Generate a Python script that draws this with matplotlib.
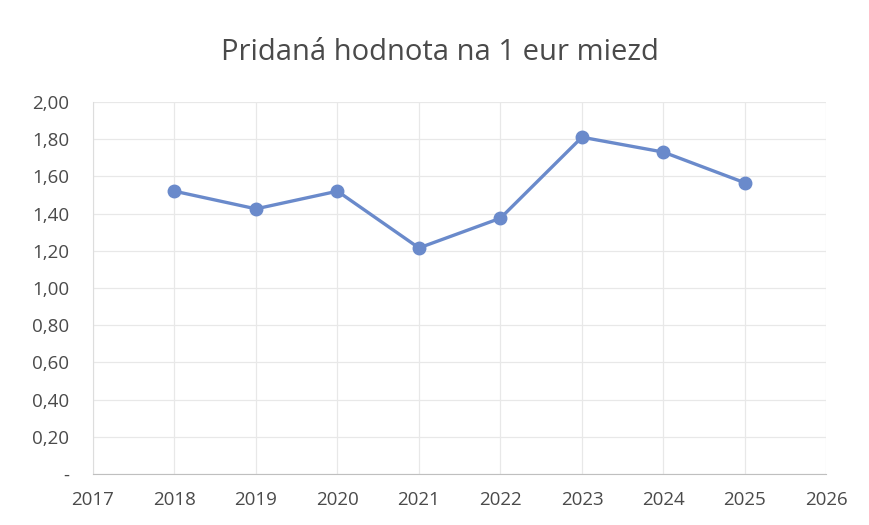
import numpy as np
from matplotlib import pyplot as plt

years = [2018, 2019, 2020, 2021, 2022, 2023, 2024, 2025]
values = [1.52, 1.425, 1.52, 1.215, 1.375, 1.81, 1.73, 1.565]

x_ticks = list(range(2017, 2027))
y_ticks = [0, 0.2, 0.4, 0.6, 0.8, 1.0, 1.2, 1.4, 1.6, 1.8, 2.0]
y_labels = ['-', '0,20', '0,40', '0,60', '0,80', '1,00', '1,20', '1,40', '1,60', '1,80', '2,00']

plt.rcParams['font.family'] = ['Open Sans', 'DejaVu Sans']

fig = plt.figure(figsize=(8.69, 5.25), dpi=100)
ax = fig.add_axes([0.107, 0.097, 0.844, 0.709])

ax.plot(years, values, color='#6a8acb', linewidth=2.4, marker='o', markersize=9,
        markerfacecolor='#6a8acb', markeredgecolor='#6a8acb', zorder=3)

ax.set_xlim(2017, 2026)
ax.set_ylim(0, 2.0)
ax.set_xticks(x_ticks)
ax.set_yticks(y_ticks)
ax.set_yticklabels(y_labels)
ax.grid(True, color='#e8e8e8', linewidth=0.9)
ax.tick_params(length=0, labelsize=13.5, colors='#4a4a4a')
ax.tick_params(axis='y', pad=17)
ax.tick_params(axis='x', pad=12)

for side in ['top', 'right']:
    ax.spines[side].set_visible(False)
ax.spines['left'].set_color('#dddddd')
ax.spines['bottom'].set_color('#bfbfbf')

fig.text(0.506, 0.9, 'Pridaná hodnota na 1 eur miezd', ha='center', va='center',
         fontsize=21, color='#4a4a4a')

fig.savefig('out.png', dpi=100)
